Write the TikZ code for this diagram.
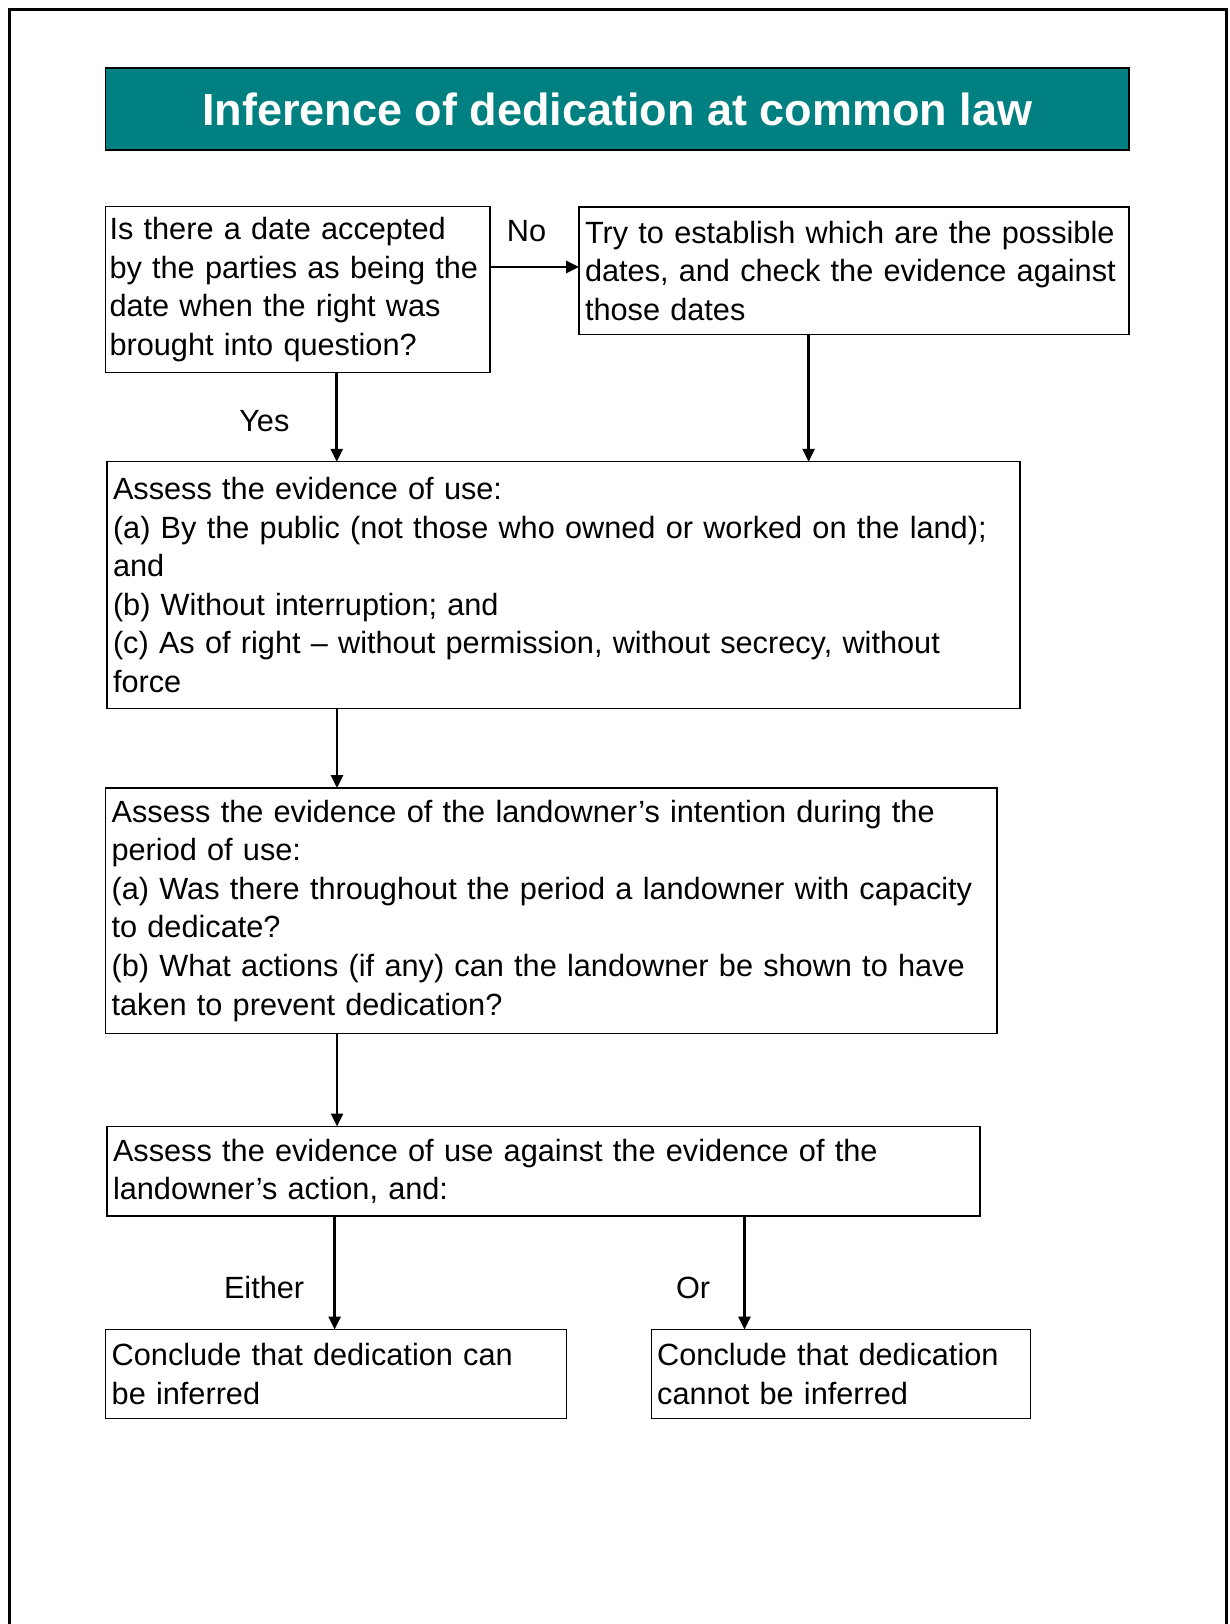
\documentclass[tikz,border=0pt]{standalone}
\usepackage{fontspec}
\setmainfont{Liberation Sans}
\usepackage{tikz}
\usetikzlibrary{arrows.meta}
\definecolor{titleteal}{RGB}{0,128,128}
\newcommand{\bodysize}{\fontsize{30.7}{38.6}\selectfont}
\tikzstyle{heading} = [rectangle, draw=black, line width=1.8pt, fill=titleteal,
text=white, font=\fontsize{45}{54}\selectfont\bfseries, minimum width=1023.5pt,
minimum height=81.7pt, inner sep=0pt, outer sep=0pt, anchor=north west]
\tikzstyle{box} = [rectangle, draw=black, line width=1.3pt, inner xsep=6pt,
inner ysep=0pt, outer sep=0pt, anchor=north west, align=left, font=\bodysize]
\tikzstyle{answer} = [font=\bodysize, inner sep=0pt]
\tikzstyle{arrow} =
[line width=2.8pt,-{Triangle[length=13pt,width=12pt]}]
\tikzstyle{pageframe} = [line width=2.5pt]

\begin{document}
\begin{tikzpicture}[x=1pt, y=-1pt]

\useasboundingbox (0,0) rectangle (1229,1624);
\draw[pageframe] (9.5,1624) -- (9.5,9.5) -- (1226.5,9.5) -- (1226.5,1624);

\node(title)[heading] at (105.5,68.3){Inference of dedication at common law};
\node(date)[box, inner xsep=4pt, text width=376.5pt, minimum height=166pt] at
(105.5,206.7){Is there a date accepted\\by the parties as being the\\date when
the right was\\brought into question?};
\node(dates)[box, text width=538pt, minimum height=127.4pt] at (579,207){Try to
establish which are the possible\\dates, and check the evidence against\\those
dates};
\node(use)[box, text width=901pt, minimum height=246.4pt] at (107,461.8){Assess
the evidence of use:\\(a) By the public (not those who owned or worked on the
land);\\and\\(b) Without interruption; and\\(c) As of right – without
permission, without secrecy, without\\force};
\node(intent)[box, text width=879.5pt, minimum height=245.3pt] at (105.6,788){Assess
the evidence of the landowner’s intention during the\\period of use:\\(a) Was
there throughout the period a landowner with capacity\\to dedicate?\\(b) What
actions (if any) can the landowner be shown to have\\taken to prevent
dedication?};
\node(weigh)[box, text width=861pt, minimum height=89.5pt] at (107,1126.5){Assess
the evidence of use against the evidence of the\\landowner’s action, and:};
\node(can)[box, text width=448.8pt, minimum height=89pt] at (105.7,1329.5){Conclude
that dedication can\\be inferred};
\node(cannot)[box, text width=367.3pt, minimum height=89pt] at (651.2,1329.5){Conclude
that dedication\\cannot be inferred};

\draw[arrow]([yshift=3.7pt]date.east |- dates.west) -- ([yshift=3.7pt]dates.west)
node[answer, pos=0.41, anchor=base, yshift=26pt]{No};
\draw[arrow]([xshift=39pt]date.south) -- ([xshift=39pt]date.south |- use.north)
node[answer, pos=0.66, anchor=base east, xshift=-46pt]{Yes};
\draw[arrow]([xshift=-45.4pt]dates.south) -- ([xshift=-45.4pt]dates.south |- use.north);
\draw[arrow]([xshift=-226.5pt]use.south) -- ([xshift=-226.5pt]use.south |- intent.north);
\draw[arrow]([xshift=-214.3pt]intent.south) -- ([xshift=-214.3pt]intent.south |- weigh.north);
\draw[arrow]([xshift=-208.9pt]weigh.south) -- ([xshift=-208.9pt]weigh.south |- can.north)
node[answer, pos=0.725, anchor=base east, xshift=-29pt]{Either};
\draw[arrow]([xshift=201pt]weigh.south) -- ([xshift=201pt]weigh.south |- cannot.north)
node[answer, pos=0.725, anchor=base east, xshift=-33pt]{Or};

\end{tikzpicture}
\end{document}
